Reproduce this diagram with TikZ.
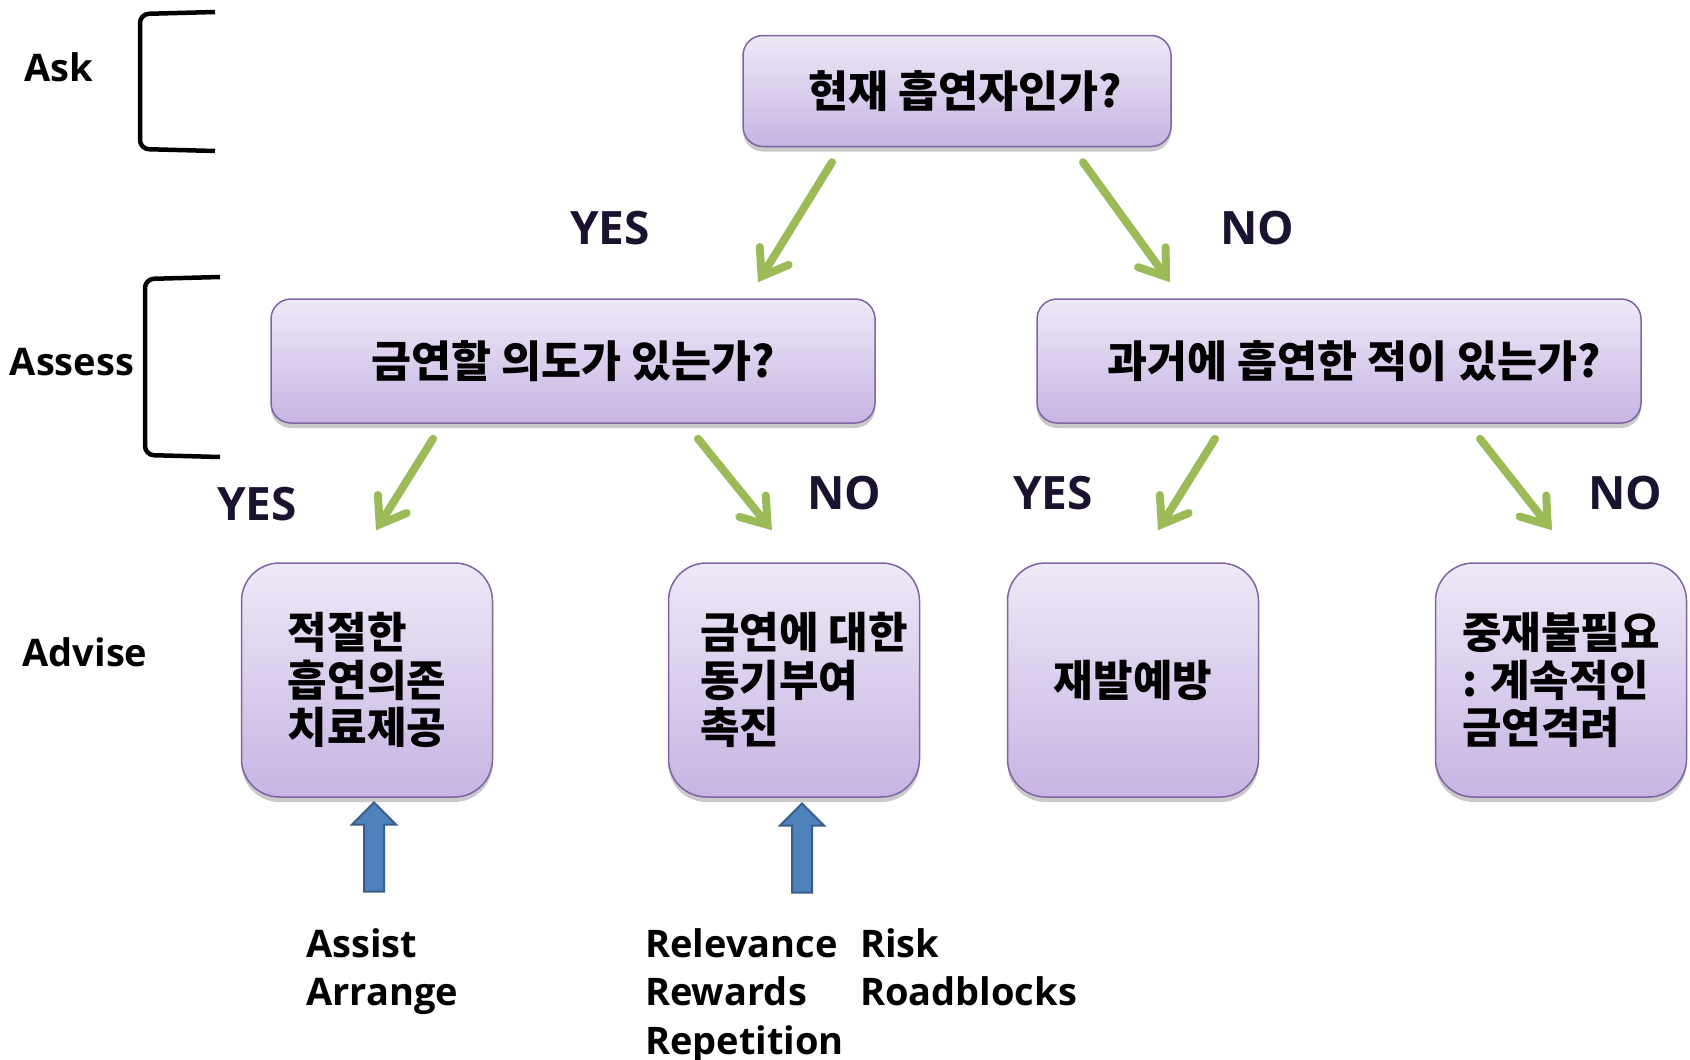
\documentclass[tikz,border=0pt]{standalone}
\usepackage{fontspec}
\setmainfont{Open Sans}
\newfontfamily\kr{Noto Sans CJK KR}
\usepackage{tikz}
\usetikzlibrary{arrows.meta,shapes}
\usetikzlibrary{shapes.arrows}
\usetikzlibrary{shadows}
\usetikzlibrary{positioning}

\definecolor{boxtop}{HTML}{EEE9F7}
\definecolor{boxbottom}{HTML}{C7B4E3}
\definecolor{boxline}{HTML}{8064A2}
\definecolor{yesgreen}{HTML}{9BBB59}
\definecolor{upfill}{HTML}{4F81BD}
\definecolor{upline}{HTML}{385D8A}
\definecolor{answerink}{HTML}{1B1230}

\tikzset{
	question/.style={draw=boxline, line width=1.5pt, rounded corners=20pt,
		top color=boxtop, bottom color=boxbottom,
		drop shadow={shadow xshift=0pt, shadow yshift=-5pt, opacity=.35, fill=black!60},
		font=\kr\bfseries\fontsize{43.5}{48}\selectfont, inner sep=0pt},
	advice/.style={question, rounded corners=38pt, minimum width=251pt, minimum height=234pt,
		align=left, font=\kr\bfseries\fontsize{43}{47.5}\selectfont},
	answer/.style={font=\bfseries\fontsize{46}{50}\selectfont, text=answerink},
	stage/.style={font=\bfseries\fontsize{38}{44}\selectfont},
	hint/.style={font=\bfseries\fontsize{38}{48.5}\selectfont, align=left, inner sep=0pt},
	flow/.style={draw=yesgreen, line width=8pt, line cap=round,
		-{Straight Barb[length=24pt,width=34pt,line cap=round]}},
	push/.style={single arrow, draw=upline, fill=upfill, line width=2pt, rotate=90,
		minimum height=89pt, minimum width=42pt, single arrow head extend=12pt,
		inner xsep=0pt, inner ysep=9pt},
	bracket/.style={line width=4.5pt, rounded corners=9pt},
}

\begin{document}
\begin{tikzpicture}[x=1pt, y=-1pt]
	\useasboundingbox (0,0) rectangle (1690,1060);

	% stages
	\node[stage] (ask) at (59,67) {Ask};
	\node[stage] (assess) at (72,362) {Assess};
	\node[stage] (advise) at (85,652) {Advise};
	\draw[bracket] (215,12) -- (140,14) -- (140,149) -- (215,151);
	\draw[bracket] (220,277) -- (145,279) -- (145,455) -- (220,457);

	% questions
	\node[question, minimum width=428pt, minimum height=111pt] (smoker) at (957,91) {\hspace*{16pt}현재 흡연자인가?};
	\node[question, minimum width=604pt, minimum height=124pt] (intent) at (573,361) {금연할 의도가 있는가?};
	\node[question, minimum width=604pt, minimum height=124pt] (past) at (1339,361) {\hspace*{30pt}과거에 흡연한 적이 있는가?};

	% advice
	\node[advice] (treat) at (367,680) {적절한\\흡연의존\\치료제공};
	\node[advice] (motivate) at (794,680) {\hspace*{20pt}금연에 대한\\\hspace*{20pt}동기부여\\\hspace*{20pt}촉진};
	\node[advice] (relapse) at (1133,680) {재발예방};
	\node[advice] (noneed) at (1561,680) {중재불필요\\: 계속적인\\금연격려};

	\node[answer] (yesA) at (610,228) {YES};
	\node[answer] (noA) at (1257,228) {NO};
	\node[answer] (yesB) at (257,504) {YES};
	\node[answer] (noB) at (844,493) {NO};
	\node[answer] (yesC) at (1053,493) {YES};
	\node[answer] (noC) at (1625,493) {NO};

	\draw[flow] ([xshift=-125pt,yshift=-15pt]smoker.south) -- ([xshift=185pt,yshift=16pt]intent.north);
	\draw[flow] ([xshift=126pt,yshift=-15pt]smoker.south) -- ([xshift=-169pt,yshift=16pt]past.north);
	\draw[flow] ([xshift=-140pt,yshift=-15pt]intent.south) -- ([xshift=9pt,yshift=32pt]treat.north);
	\draw[flow] ([xshift=125pt,yshift=-15pt]intent.south) -- ([xshift=-22pt,yshift=32pt]motivate.north);
	\draw[flow] ([xshift=-124pt,yshift=-15pt]past.south) -- ([xshift=25pt,yshift=32pt]relapse.north);
	\draw[flow] ([xshift=141pt,yshift=-15pt]past.south) -- ([xshift=-9pt,yshift=32pt]noneed.north);

	% 5A / 5R
	\node[push] (uptreat) at (374,852) {};
	\node[push] (upmotivate) at (802,853) {};
	\node[hint, anchor=base west] (assist) at (306,1005.5) {Assist\\Arrange};
	\node[hint, anchor=base west] (relevance) at (645,1054) {Relevance\\Rewards\\Repetition};
	\node[hint, anchor=base west] (risk) at (860,1005.5) {Risk\\Roadblocks};
\end{tikzpicture}
\end{document}
